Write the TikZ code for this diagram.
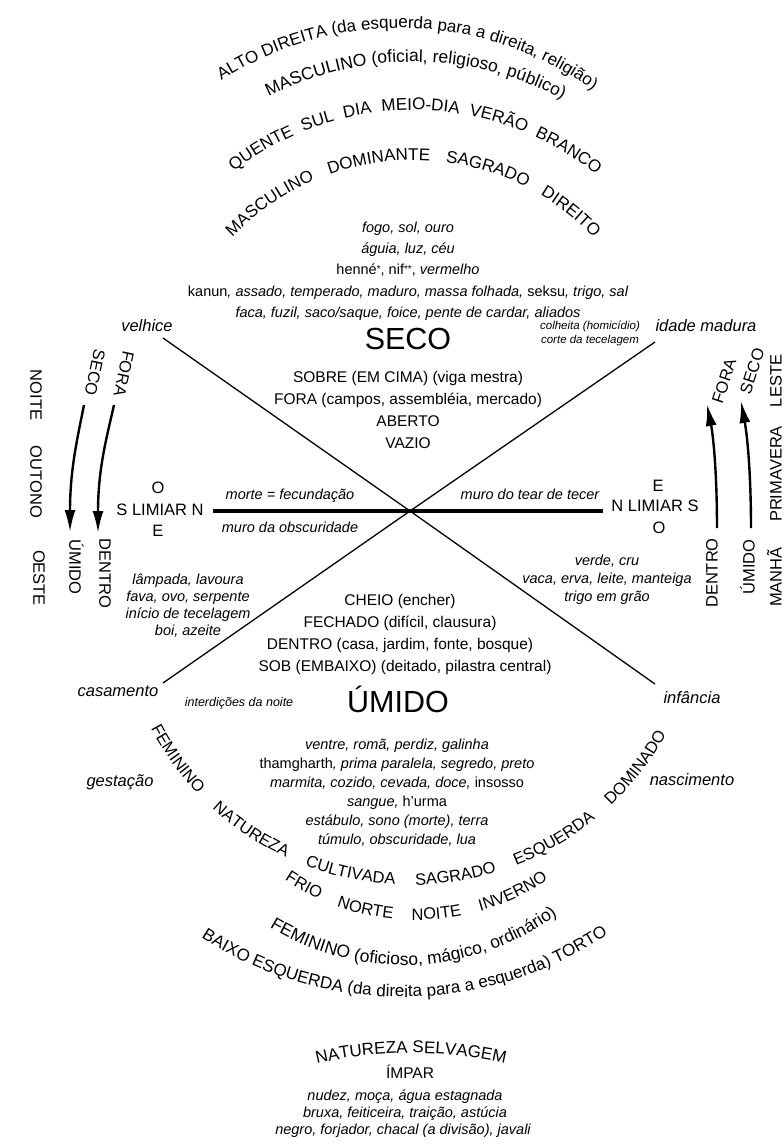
\documentclass[tikz,border=0pt]{standalone}
\usepackage{fontspec}
\setmainfont{Liberation Sans}
\usetikzlibrary{decorations.text,arrows.meta}
\newcommand\arcfont{\fontsize{17}{17}\selectfont}
\newcommand\arcfontm{\fontsize{17.5}{17}\selectfont}
\newcommand\arcfontb{\fontsize{16.5}{17}\selectfont}
\newcommand\astmark{\raisebox{2.5pt}{\fontsize{10}{10}\selectfont *}}
% #1,#2 centre; #3 radius (pt); #4,#5 visual angles; #6 alignment; #7 text
\newcommand\curvetext[7]{\path[decorate,decoration={text along path,text align=#6,text={#7}}] (#1,#2) ++(#4:#3pt) arc[start angle=#4,end angle=#5,radius=#3pt];}
\begin{document}
\begin{tikzpicture}[x=1pt,y=-1pt,
  every node/.style={inner sep=0pt,outer sep=0pt,anchor=mid},
  up/.style={font=\fontsize{15.5}{18}\selectfont},
  ital/.style={font=\fontsize{14.5}{17}\selectfont\itshape},
  big/.style={font=\fontsize{30.5}{30}\selectfont},
  age/.style={font=\fontsize{16.5}{18}\selectfont\itshape},
  side/.style={font=\fontsize{16.5}{18}\selectfont},
  note/.style={font=\fontsize{11.5}{13}\selectfont\itshape},
  smallnote/.style={font=\fontsize{12.5}{14}\selectfont\itshape},
  ray/.style={line width=1.3pt},
  wall/.style={line width=4.5pt},
  flow/.style={line width=2.4pt,-{Latex[length=22pt,width=11pt]}},
]
\useasboundingbox (0,0) rectangle (784,1146);

% ---- cross
\coordinate (C) at (410,511);
\coordinate (ul) at (163,338);
\coordinate (ur) at (655,342);
\coordinate (ll) at (163,683);
\coordinate (lr) at (655,684);
\coordinate (hl) at (213,511);
\coordinate (hr) at (603,511);
\draw[ray] (ul) -- (C) -- (lr);
\draw[ray] (ur) -- (C) -- (ll);
\draw[wall] (hl) -- (hr);

% ---- upper arcs
\curvetext{400}{357}{329}{140}{37}{center}{|\arcfont|ALTO DIREITA (da esquerda para a direita, religião)}
\curvetext{413}{381}{319}{135}{44}{center}{|\arcfontm|MASCULINO (oficial, religioso, público)}
\curvetext{413}{401}{291}{128}{51}{fit to path stretching spaces}{|\arcfont|QUENTE SUL DIA MEIO-DIA VERÃO BRANCO}
\curvetext{413}{409}{249}{136.5}{43.4}{fit to path stretching spaces}{|\arcfont|MASCULINO DOMINANTE SAGRADO DIREITO}

% ---- lower arcs
\curvetext{410}{592}{293}{207.8}{331}{fit to path stretching spaces}{|\arcfontb|FEMININO NATUREZA CULTIVADA SAGRADO ESQUERDA DOMINADO}
\curvetext{416}{685}{235}{236}{304.2}{fit to path stretching spaces}{|\arcfontb|FRIO NORTE NOITE INVERNO}
\curvetext{404}{706}{259}{220}{325}{center}{|\arcfontm|FEMININO (oficioso, mágico, ordinário)}
\curvetext{402}{627}{370}{225}{316}{center}{|\arcfont|BAIXO ESQUERDA (da direita para a esquerda) TORTO}
\curvetext{411}{1476}{423}{110}{70}{center}{|\arcfont|NATUREZA SELVAGEM}

% ---- top list
\node[ital] (fogo) at (408,230) {fogo, sol, ouro};
\node[ital] (aguia) at (408,251) {águia, luz, céu};
\node[ital] (henne) at (408,272) {\upshape henné\astmark, nif\astmark\astmark, \itshape vermelho};
\node[ital] (kanun) at (408,294) {{\upshape kanun}, assado, temperado, maduro, massa folhada, {\upshape seksu}, trigo, sal};
\node[ital] (faca) at (408,315) {faca, fuzil, saco/saque, foice, pente de cardar, aliados};

% ---- upper sector
\node[big] (seco) at (408,347) {SECO};
\node[up] (sobre) at (408,380) {SOBRE (EM CIMA) (viga mestra)};
\node[up] (fora) at (408,402) {FORA (campos, assembléia, mercado)};
\node[up] (aberto) at (408,424) {ABERTO};
\node[up] (vazio) at (408,446) {VAZIO};
\node[note] (colheita) at (590,327) {colheita (homicídio)};
\node[note] (corte) at (590,341) {corte da tecelagem};

% ---- ages
\node[age] (velhice) at (147,329) {velhice};
\node[age] (idade) at (706,329) {idade madura};
\node[age] (casamento) at (118,694) {casamento};
\node[age] (infancia) at (692,701) {infância};
\node[age] (gestacao) at (120,784) {gestação};
\node[age] (nascimento) at (692,783) {nascimento};

% ---- threshold
\node[side] (oL) at (158,491) {O};
\node[side] (limL) at (160,513) {S LIMIAR N};
\node[side] (eL) at (158,534) {E};
\node[side] (eR) at (658,489) {E};
\node[side] (limR) at (655,509) {N LIMIAR S};
\node[side] (oR) at (659,531) {O};
\node[ital] (morte) at (290,497) {morte = fecundação};
\node[ital] (tear) at (530,497) {muro do tear de tecer};
\node[ital] (obsc) at (290,530) {muro da obscuridade};

% ---- side lists
\node[ital] (lampada) at (188,582) {lâmpada, lavoura};
\node[ital] (fava) at (188,599) {fava, ovo, serpente};
\node[ital] (inicio) at (188,616) {início de tecelagem};
\node[ital] (boi) at (188,633) {boi, azeite};
\node[ital] (verde) at (607,563) {verde, cru};
\node[ital] (vaca) at (607,581) {vaca, erva, leite, manteiga};
\node[ital] (trigo) at (607,599) {trigo em grão};

% ---- lower sector
\node[up] (cheio) at (400,603) {CHEIO (encher)};
\node[up] (fechado) at (400,625) {FECHADO (difícil, clausura)};
\node[up] (dentro) at (400,647) {DENTRO (casa, jardim, fonte, bosque)};
\node[up] (sob) at (405,669) {SOB (EMBAIXO) (deitado, pilastra central)};
\node[smallnote] (interd) at (239,704) {interdições da noite};
\node[big] (umido) at (398,710) {ÚMIDO};
\node[ital] (ventre) at (397,747) {ventre, romã, perdiz, galinha};
\node[ital] (tham) at (397,766) {{\upshape thamgharth}, prima paralela, segredo, preto};
\node[ital] (marmita) at (397,785) {marmita, cozido, cevada, doce, {\upshape insosso}};
\node[ital] (sangue) at (397,804) {sangue, {\upshape h'urma}};
\node[ital] (estabulo) at (397,823) {estábulo, sono (morte), terra};
\node[ital] (tumulo) at (397,842) {túmulo, obscuridade, lua};

% ---- bottom
\node[up] (impar) at (410,1076) {ÍMPAR};
\node[ital] (nudez) at (405,1098) {nudez, moça, água estagnada};
\node[ital] (bruxa) at (405,1115) {bruxa, feiticeira, traição, astúcia};
\node[ital] (negro) at (403,1132) {negro, forjador, chacal (a divisão), javali};

% ---- left margin
\node[side,rotate=-90] (noite) at (33,395) {NOITE};
\node[side,rotate=-90] (outono) at (33,482) {OUTONO};
\node[side,rotate=-90] (oeste) at (36,578) {OESTE};
\node[side,rotate=-102] (secoL) at (92,372) {SECO};
\node[side,rotate=-102] (foraL) at (121,373) {FORA};
\node[side,rotate=-90] (umidoL) at (72,567) {ÚMIDO};
\node[side,rotate=-90] (dentroL) at (102,573) {DENTRO};
\coordinate (a1s) at (84,405); \coordinate (a1e) at (70,532);
\coordinate (a2s) at (114,405); \coordinate (a2e) at (98,533);
\draw[flow] (a1s) .. controls (77,440) and (70,470) .. (a1e);
\draw[flow] (a2s) .. controls (106,440) and (98,470) .. (a2e);

% ---- right margin
\node[side,rotate=90] (dentroR) at (715,573) {DENTRO};
\node[side,rotate=90] (umidoR) at (752,567) {ÚMIDO};
\node[side,rotate=72] (foraR) at (727,382) {FORA};
\node[side,rotate=72] (secoR) at (755,372) {SECO};
\node[side,rotate=90] (manha) at (779,577) {MANHÃ};
\node[side,rotate=90] (primavera) at (779,474) {PRIMAVERA};
\node[side,rotate=90] (leste) at (779,381) {LESTE};
\coordinate (a3s) at (717,528); \coordinate (a3e) at (707,404);
\coordinate (a4s) at (751,528); \coordinate (a4e) at (741,401);
\draw[flow] (a3s) .. controls (717,480) and (714,440) .. (a3e);
\draw[flow] (a4s) .. controls (751,480) and (748,440) .. (a4e);
\end{tikzpicture}
\end{document}
